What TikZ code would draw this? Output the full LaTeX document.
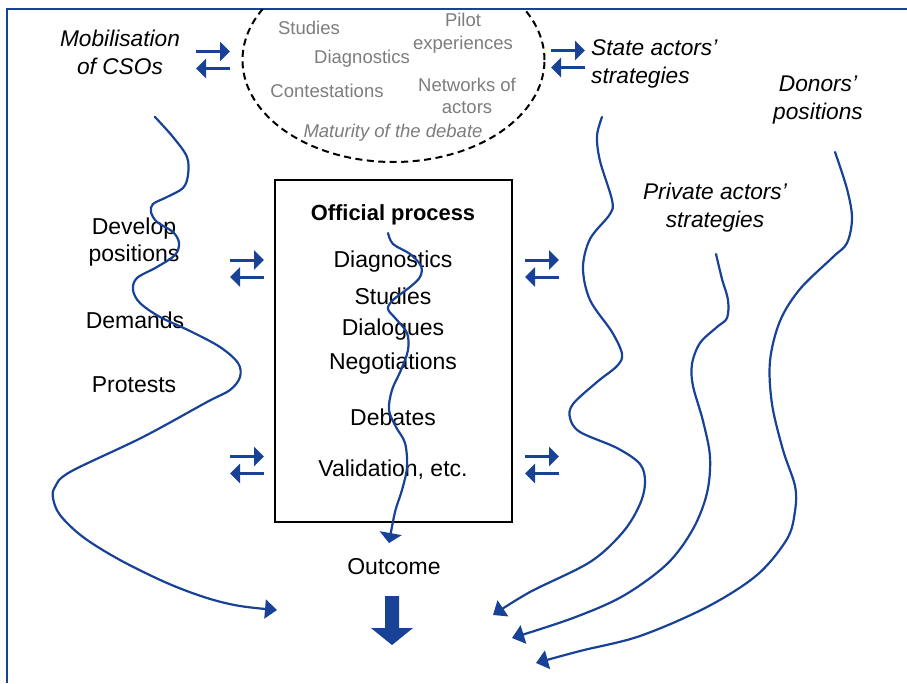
\documentclass[tikz,border=0pt]{standalone}
\usepackage{fontspec}
\setmainfont{Liberation Sans}
\usetikzlibrary{arrows.meta}
\definecolor{arrowblue}{RGB}{24,66,150}
\definecolor{txtgray}{RGB}{125,125,125}
\begin{document}
\begin{tikzpicture}[x=1pt,y=-1pt,
  wave/.style={arrowblue, line width=2.2pt, line cap=round},
  wavetip/.style={wave, -{Triangle[length=12pt,width=19pt]}},
  xarrow/.style={arrowblue, line width=3pt, -{Triangle[length=10pt,width=19pt]}},
  lbl/.style={inner sep=0pt, font=\fontsize{23}{27}\selectfont, align=center},
  itl/.style={inner sep=0pt, font=\fontsize{22.7}{28}\selectfont\itshape},
  grey/.style={inner sep=0pt, text=txtgray, font=\fontsize{18.5}{22.5}\selectfont, align=center},
  exch/.pic={\draw[xarrow] (-17,-8.5) -- (17,-8.5); \draw[xarrow] (17,8.5) -- (-17,8.5);}
]
\useasboundingbox (0,0) rectangle (907,683);
\fill[white] (0,0) rectangle (907,683);
% frame
\draw[arrowblue, line width=1.5pt] (907,9) -- (7,9) -- (7,683);
% dashed ellipse (cut by frame)
\begin{scope}
  \clip (0,9.8) rectangle (907,683);
  \draw[black, line width=2pt, dash pattern=on 7pt off 4.5pt] (393.5,60) ellipse [x radius=151pt, y radius=102pt];
\end{scope}
% ellipse texts
\node[grey] (e1) at (309,28) {Studies};
\node[grey] (e2) at (463,33) {Pilot\\experiences};
\node[grey] (e3) at (362,59) {Diagnostics};
\node[grey] (e4) at (327,91) {Contestations};
\node[grey] (e5) at (467,96) {Networks of\\actors};
\node[grey, font=\fontsize{18.5}{22.5}\selectfont\itshape] (e6) at (393,133) {Maturity of the debate};
% top labels
\node[itl, align=center] (cso) at (120,52) {Mobilisation\\of CSOs};
\node[itl, align=left, anchor=west] (state) at (591,64) {State actors'\\strategies};
\node[itl, align=center] (donor) at (818,100) {Donors'\\positions};
\node[itl, align=center] (priv) at (715,208) {Private actors'\\strategies};
% left labels
\node[lbl] (dev) at (134,242) {Develop\\positions};
\node[lbl] (dem) at (135,320) {Demands};
\node[lbl] (pro) at (134,385) {Protests};
% official process box
\node[draw=black, line width=1.3pt, minimum width=237pt, minimum height=342pt, inner sep=0pt] (proc) at (393.5,351) {};
\node[lbl, font=\fontsize{21.9}{27}\selectfont\bfseries] (op) at (393,215) {Official process};
\node[lbl] (b1) at (393,262) {Diagnostics};
\node[lbl] (b2) at (393,296) {Studies};
\node[lbl] (b3) at (393,330) {Dialogues};
\node[lbl] (b4) at (393,364) {Negotiations};
\node[lbl] (b5) at (393,417) {Debates};
\node[lbl] (b6) at (393,470) {Validation, etc.};
\node[lbl] (out) at (394,567) {Outcome};
% exchange arrows
\pic at (213,60) {exch};
\pic at (568,59) {exch};
\pic at (247,268.5) {exch};
\pic at (247,465) {exch};
\pic at (542,268.5) {exch};
\pic at (542,465) {exch};
% big outcome arrow
\fill[arrowblue] (385,596) -- (399,596) -- (399,628) -- (413,628) -- (392,645) -- (371,628) -- (385,628) -- cycle;
% wavy lines
\draw[wavetip] plot[smooth, tension=0.55] coordinates {(155,117) (173,137) (187,157) (188,175) (183,188) (167,197) (153,204) (151,212) (157,222) (173,232) (179,243) (175,255) (157,267) (137,278) (133,290) (140,303) (160,317) (190,331) (220,347) (238,363) (240,377) (230,390) (207,402) (143,437) (70,472) (55,487) (53,498) (60,515) (83,537) (120,560) (167,583) (207,598) (240,606) (277,610)};
\draw[wavetip, -{Triangle[length=10pt,width=22pt]}] plot[smooth, tension=0.55] coordinates {(388,233) (393,244) (410,254) (421,266) (420,277) (410,287) (393,300) (388,309) (396,319) (407,333) (408,350) (401,370) (392,390) (389,410) (396,427) (405,443) (407,467) (402,490) (395,512) (389,543)};
\draw[wavetip] plot[smooth, tension=0.55] coordinates {(602,117) (597,136) (600,161) (612,200) (610,214) (590,239) (583,268) (590,300) (612,332) (622,354) (617,366) (597,382) (573,404) (570,418) (580,432) (617,448) (640,464) (645,482) (640,504) (623,532) (590,562) (530,592) (493,615)};
\draw[wavetip] plot[smooth, tension=0.55] coordinates {(716,254) (722,279) (728,300) (727,318) (717,327) (700,343) (692,364) (693,386) (703,421) (710,457) (707,493) (693,529) (667,564) (623,596) (573,618) (512,638)};
\draw[wavetip] plot[smooth, tension=0.55] coordinates {(835,152) (847,189) (852,218) (847,243) (833,257) (800,289) (780,321) (770,361) (772,404) (783,450) (795,486) (795,511) (787,539) (757,575) (707,607) (640,636) (580,651) (536,663)};
\end{tikzpicture}
\end{document}
